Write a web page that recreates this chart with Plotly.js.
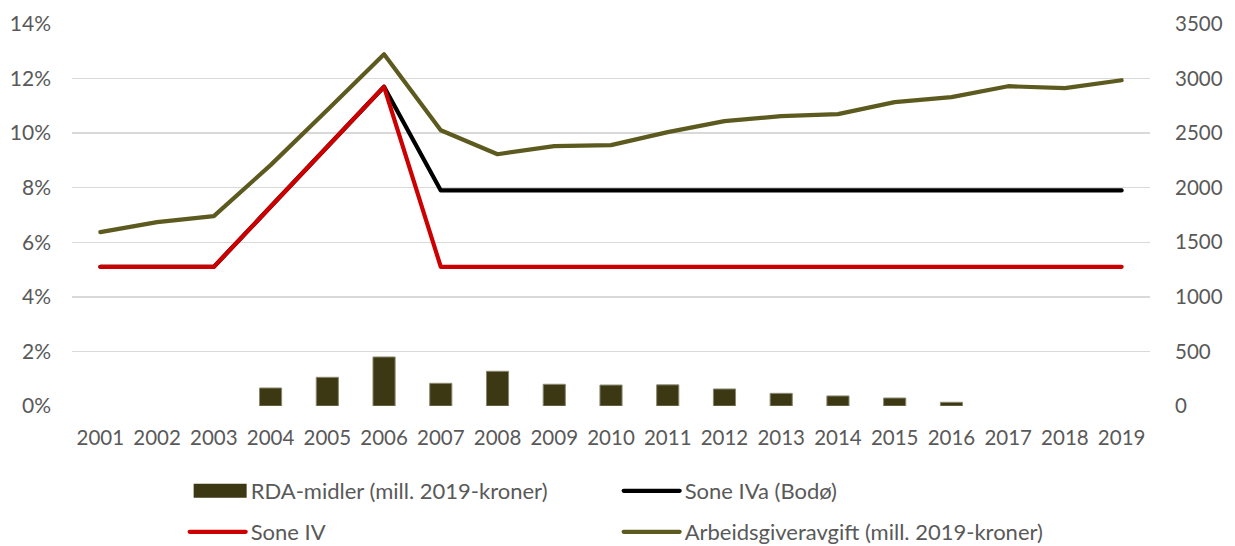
<!DOCTYPE html>
<html>
<head>
<meta charset="utf-8">
<script src="https://cdn.plot.ly/plotly-3.0.1.min.js"></script>
<style>
html,body{margin:0;padding:0;background:#fff;}
#chart{width:1235px;height:546px;}
.scatterlayer .js-line, .legendlines path{stroke-linecap:round !important;stroke-linejoin:round !important;}
</style>
</head>
<body>
<div id="chart"></div>
<script>
const years = ["2001","2002","2003","2004","2005","2006","2007","2008","2009","2010","2011","2012","2013","2014","2015","2016","2017","2018","2019"];
const rdaMidler = [null,null,null,165,263,449,208,318,199,192,194,156,116,92,73,34,null,null,null];
const soneIVa = [0.051,0.051,0.051,0.073,0.095,0.117,0.079,0.079,0.079,0.079,0.079,0.079,0.079,0.079,0.079,0.079,0.079,0.079,0.079];
const soneIV = [0.051,0.051,0.051,0.073,0.095,0.117,0.051,0.051,0.051,0.051,0.051,0.051,0.051,0.051,0.051,0.051,0.051,0.051,0.051];
const arbeidsgiveravgift = [1593,1685,1740,2207,2711,3223,2527,2307,2381,2390,2509,2610,2656,2674,2784,2830,2930,2912,2985];

const leftTicks = [0,0.02,0.04,0.06,0.08,0.10,0.12,0.14];
const rightTicks = [0,500,1000,1500,2000,2500,3000,3500];

const FONT = "Lato, 'Liberation Sans', sans-serif";
const TXT = "#595959";

const traces = [
  {type:"bar", name:"RDA-midler (mill. 2019-kroner)", x:years, y:rdaMidler, yaxis:"y2",
   marker:{color:"#3b3813", line:{color:"#8a8870", width:1}}, legend:"legend"},
  {type:"scatter", mode:"lines", name:"Sone IVa (Bodø)", x:years, y:soneIVa, yaxis:"y",
   line:{color:"#000000", width:4.2}, legend:"legend"},
  {type:"scatter", mode:"lines", name:"Sone IV", x:years, y:soneIV, yaxis:"y",
   line:{color:"#cc0000", width:4.2}, legend:"legend2"},
  {type:"scatter", mode:"lines", name:"Arbeidsgiveravgift (mill. 2019-kroner)", x:years, y:arbeidsgiveravgift, yaxis:"y2",
   line:{color:"#5c5a1f", width:4.2}, legend:"legend2"}
];

const legendBase = {orientation:"h", x:0.1045, xanchor:"left", xref:"paper", yref:"container", yanchor:"middle",
  entrywidth:363, entrywidthmode:"pixels", font:{size:22, color:TXT}, bgcolor:"rgba(0,0,0,0)",
  traceorder:"normal", itemwidth:56};

const layout = {
  width:1235, height:546,
  margin:{l:72, r:85, t:24, b:140},
  paper_bgcolor:"#fff", plot_bgcolor:"#fff",
  font:{family:FONT, size:20, color:TXT},
  bargap:0.61,
  xaxis:{type:"category", showgrid:false, zeroline:false, showline:false, ticks:"", tickfont:{size:20.5, color:TXT}, ticklabelstandoff:17},
  yaxis:{range:[0,0.14], tickvals:leftTicks, tickformat:".0%", showgrid:true, gridcolor:"#d9d9d9", gridwidth:1.5,
         zeroline:false, showline:false, ticks:"", tickfont:{size:21, color:TXT}, ticklabelstandoff:20},
  yaxis2:{range:[0,3500], tickvals:rightTicks, overlaying:"y", side:"right", showgrid:false, zeroline:false,
          showline:false, ticks:"", tickfont:{size:20.5, color:TXT}, ticklabelstandoff:24},
  showlegend:true,
  legend:Object.assign({}, legendBase, {y:0.1007}),
  legend2:Object.assign({}, legendBase, {y:0.0256})
};

Plotly.newPlot("chart", traces, layout, {staticPlot:true, displayModeBar:false}).then(function(){
  // widen the bar legend swatch to a rectangle like the original
  const leg = document.querySelector('.legend');
  if(!leg) return;
  const tr = leg.querySelectorAll('.traces')[0];
  const p = tr.querySelector('.legendpoints path');
  const t = tr.querySelector('text.legendtext');
  if(!p || !t) return;
  const pr = p.getBoundingClientRect(), trc = t.getBoundingClientRect();
  const cx = (pr.left + pr.right) / 2;
  const right = trc.left - 4 - cx, left = right - 53;
  p.setAttribute('d', 'M' + left + ',7H' + right + 'V-7H' + left + 'Z');
  p.style.strokeWidth = '0px';
});
</script>
</body>
</html>
